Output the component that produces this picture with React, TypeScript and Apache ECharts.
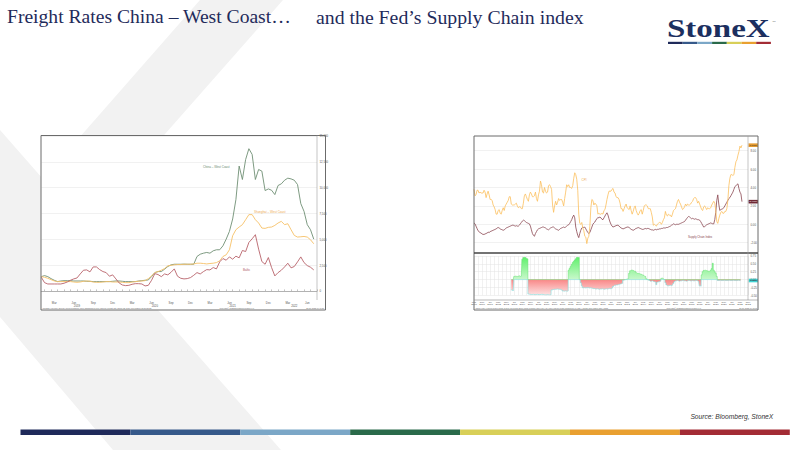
import { useEffect, useRef } from "react";
import * as echarts from "echarts";

// ---------- left chart: freight rates, twice a month from 16 Jan 2019 ----------
const chinaWestCoast = [
  1390, 1490, 1390, 1200, 1040, 910, 970, 1000, 1000, 1000,
  970, 970, 970, 970, 940, 940, 910, 910, 910, 910,
  910, 910, 940, 970, 970, 940, 910, 910, 910, 910,
  970, 1000, 1040, 1070, 1390, 1780, 1880, 1880, 2110, 2370,
  2530, 2590, 2590, 2590, 2600, 2590, 2590, 2590, 3340, 3560,
  3660, 3730, 3660, 3890, 3990, 3990, 4370, 5020, 5770, 6970,
  8850, 12090, 10790, 12730, 13770, 13220, 10790, 11760, 11600, 9720,
  9880, 9750, 9330, 10210, 10370, 10720, 10920, 10850, 10720, 10300,
  8460, 7710, 6420, 5930, 5020,
];
const shanghaiWestCoast = [
  1390, 1330, 1230, 1100, 970, 910, 910, 910, 910, 910,
  870, 840, 870, 940, 970, 940, 870, 840, 840, 870,
  910, 910, 870, 870, 870, 840, 810, 810, 870, 910,
  940, 970, 1000, 1200, 1460, 1780, 1880, 2010, 2170, 2430,
  2490, 2530, 2560, 2560, 2590, 2590, 2590, 2620, 2690, 2690,
  2660, 2620, 2660, 2690, 2750, 2920, 3340, 3500, 3990, 5350,
  5930, 6190, 6420, 6900, 7390, 7390, 6900, 6580, 6090, 6060,
  6160, 6190, 6350, 6580, 6740, 6420, 6510, 5930, 5380, 5220,
  5250, 5280, 5220, 4960, 4570,
];
const baltic = [
  1330, 810, 680, 680, 680, 680, 680, 750, 870, 1040,
  1170, 1260, 1650, 2010, 2040, 1850, 2330, 2330, 2070, 1880,
  1780, 1430, 1560, 1170, 780, 580, 520, 550, 650, 710,
  710, 680, 490, 550, 1040, 1680, 1590, 1390, 1650, 1560,
  1810, 2140, 1430, 1230, 1170, 1200, 1300, 1520, 1780, 1650,
  1880, 2070, 2040, 2270, 2140, 2820, 3140, 2980, 3300, 3080,
  3370, 3210, 3920, 3820, 4700, 5050, 5450, 4050, 2850, 2590,
  3240, 2270, 1460, 1780, 2010, 2330, 2690, 2240, 2370, 2820,
  3300, 2750, 2460, 2300, 2040,
];
const FREIGHT_FIRST = "2019-01-16";
const FREIGHT_LAST = "2022-08-01";
const FREIGHT_MONTH_LABELS = [3, 6, 9, 12];
const FREIGHT_YEAR_AT = ["2019-07-01", "2020-07-01", "2021-07-01", "2022-04-16"];

// ---------- right chart: monthly from Mar 2000 ----------
const cpi = [
  3.8, 3.1, 3.2, 3.7, 3.7, 3.4, 3.5, 3.4, 3.4, 3.4,
  3.7, 3.5, 2.9, 3.3, 3.6, 3.2, 2.7, 2.7, 2.6, 2.1, 1.9, 1.6,
  1.1, 1.1, 1.5, 1.6, 1.2, 1.1, 1.5, 1.8, 1.5, 2.0, 2.2, 2.4,
  2.6, 3.0, 3.0, 2.2, 2.1, 2.1, 2.1, 2.2, 2.3, 2.0, 1.8, 1.9,
  1.9, 1.7, 1.7, 2.3, 3.1, 3.3, 3.0, 2.7, 2.5, 3.2, 3.5, 3.3,
  3.0, 3.0, 3.1, 3.5, 2.8, 2.5, 3.2, 3.6, 4.7, 4.3, 3.5, 3.4,
  4.0, 3.6, 3.4, 3.5, 4.2, 4.3, 4.1, 3.8, 2.1, 1.3, 2.0, 2.5,
  2.1, 2.4, 2.8, 2.6, 2.7, 2.7, 2.4, 2.0, 2.8, 3.5, 4.3, 4.1,
  4.3, 4.0, 4.0, 3.9, 4.2, 5.0, 5.6, 5.4, 4.9, 3.7, 1.1, 0.1,
  0.0, 0.2, -0.4, -0.7, -1.3, -1.4, -2.1, -1.5, -1.3, -0.2, 1.8, 2.7,
  2.6, 2.1, 2.3, 2.2, 2.0, 1.1, 1.2, 1.1, 1.1, 1.2, 1.1, 1.5,
  1.6, 2.1, 2.7, 3.2, 3.6, 3.6, 3.6, 3.8, 3.9, 3.5, 3.4, 3.0,
  2.9, 2.9, 2.7, 2.3, 1.7, 1.7, 1.4, 1.7, 2.0, 2.2, 1.8, 1.7,
  1.6, 2.0, 1.5, 1.1, 1.4, 1.8, 2.0, 1.5, 1.2, 1.0, 1.2, 1.5,
  1.6, 1.1, 1.5, 2.0, 2.1, 2.1, 2.0, 1.7, 1.7, 1.7, 1.3, 0.8,
  -0.1, 0.0, -0.1, -0.2, 0.0, 0.1, 0.2, 0.2, 0.0, 0.2, 0.5, 0.7,
  1.4, 1.0, 0.9, 1.1, 1.0, 1.0, 0.8, 1.1, 1.5, 1.6, 1.7, 2.1,
  2.5, 2.7, 2.4, 2.2, 1.9, 1.6, 1.7, 1.9, 2.2, 2.0, 2.2, 2.1,
  2.1, 2.2, 2.4, 2.5, 2.8, 2.9, 2.9, 2.7, 2.3, 2.5, 2.2, 1.9,
  1.6, 1.5, 1.9, 2.0, 1.8, 1.6, 1.8, 1.7, 1.7, 1.8, 2.1, 2.3,
  2.5, 2.3, 1.5, 0.3, 0.1, 0.6, 1.0, 1.3, 1.4, 1.2, 1.2, 1.4,
  1.4, 1.7, 2.6, 4.2, 5.0, 5.4, 5.4, 5.3, 5.4, 6.2, 6.8, 7.0,
  7.5, 7.9, 8.5, 8.3, 8.6,
];
const supplyChainIndex = [
  0.15, 0.05, -0.2, -0.45, -0.7, -0.8, -0.9, -0.95, -1.05, -1.1,
  -1.1, -1.05, -1.0, -0.95, -0.85, -0.9, -0.8, -0.75, -0.7, -0.65, -0.6, -0.55,
  -0.5, -0.4, -0.35, -0.4, -0.5, -0.55, -0.6, -0.65, -0.6, -0.5, -0.4, -0.35,
  -0.3, -0.25, -0.2, -0.15, -0.1, -0.1, -0.15, -0.2, -0.15, -0.2, -0.2, -0.1,
  0.05, 0.2, 0.35, 0.45, 0.4, 0.3, 0.2, 0.15, 0.1, 0.05, -0.2, -0.6,
  -1.0, -1.2, -1.3, -1.0, -0.8, -0.6, -0.5, -0.45, -0.4, -0.35, -0.3, -0.3,
  -0.35, -0.4, -0.5, -0.55, -0.6, -0.5, -0.4, -0.35, -0.3, -0.3, -0.4, -0.5,
  -0.55, -0.6, -0.65, -0.55, -0.45, -0.4, -0.35, -0.3, -0.35, -0.3, -0.2, -0.1,
  -0.05, 0.1, 0.3, 0.5, 0.8, 1.0, 0.7, -0.3, -0.8, -1.2, -1.45, -1.0,
  -0.65, -0.4, -0.3, -0.35, -0.3, -0.5, -0.7, -0.9, -1.0, -0.9, -0.6, -0.3,
  0.0, 0.15, 0.25, 0.45, 0.6, 0.75, 0.7, 0.8, 0.7, 0.55, 0.5, 0.7,
  0.9, 1.1, 1.25, 1.0, 0.6, 0.25, 0.0, -0.2, -0.3, -0.25, -0.2, -0.15,
  -0.1, -0.1, -0.2, -0.3, -0.4, -0.45, -0.5, -0.45, -0.4, -0.35, -0.3, -0.3,
  -0.35, -0.45, -0.55, -0.6, -0.65, -0.6, -0.5, -0.45, -0.4, -0.35, -0.4, -0.45,
  -0.5, -0.55, -0.55, -0.5, -0.45, -0.5, -0.45, -0.45, -0.5, -0.55, -0.6, -0.6,
  -0.65, -0.6, -0.55, -0.6, -0.55, -0.55, -0.5, -0.5, -0.45, -0.45, -0.4, -0.4,
  -0.4, -0.35, -0.35, -0.3, -0.25, -0.2, -0.1, -0.05, 0.05, 0.0, -0.05, 0.0,
  0.0, 0.0, 0.05, 0.1, 0.15, 0.2, 0.25, 0.3, 0.45, 0.6, 0.75, 0.85,
  0.8, 0.7, 0.6, 0.65, 0.6, 0.55, 0.6, 0.55, 0.5, 0.5, 0.45, 0.3,
  0.1, -0.1, -0.3, -0.25, -0.15, -0.05, 0.0, 0.05, 0.1, 0.15, 0.1, 0.05,
  0.05, 0.5, 1.3, 2.6, 3.2, 2.2, 1.5, 1.6, 1.65, 1.7, 1.8, 2.0,
  2.2, 2.4, 2.6, 2.8, 2.9, 3.1, 3.3, 3.5, 3.8, 4.1, 4.2, 4.3,
  4.4, 3.9, 3.5, 3.3, 2.46,
];
// lower panel, monthly from Apr 2003
const spread = [
  -0.31, -0.34, -0.36,
  0.1, 0.11, 0.1, 0.1, 0.11, 0.12, 0.1, 0.11,
  0.65, 0.7, 0.72, 0.7, 0.68, 0.66,
  -0.46, -0.47, -0.47, -0.48, -0.47, -0.47, -0.48, -0.48, -0.47, -0.47, -0.48, -0.48,
  -0.47, -0.47, -0.47, -0.48, -0.49, -0.49, -0.48, -0.48, -0.49, -0.49, -0.48,
  -0.33, -0.32, -0.31, -0.31, -0.31, -0.3, -0.3, -0.31, -0.31, -0.32, -0.33,
  -0.36, -0.37, -0.36, -0.36, -0.37, -0.36,
  0.3, 0.36, 0.42, 0.48, 0.54, 0.58, 0.62, 0.66, 0.7, 0.72, 0.7,
  0, -0.1, -0.2,
  -0.26, -0.25, -0.27, -0.26, -0.26, -0.25, -0.26, -0.27, -0.26, -0.27,
  -0.28, -0.29, -0.28, -0.3, -0.29, -0.3, -0.31, -0.3, -0.3, -0.29,
  -0.3, -0.31, -0.3, -0.29, -0.3, -0.29, -0.28, -0.29, -0.28, -0.27,
  -0.22, -0.2, -0.18, -0.17, -0.17, -0.16, -0.15, -0.14, -0.13, -0.12,
  -0.02, -0.01, 0, 0.01, 0.02, 0.03,
  0.2, 0.28, 0.3, 0.3, 0.29, 0.28, 0.26, 0.22, 0.2,
  0.2, 0.19, 0.18, 0.17, 0.16, 0.14, 0.12, 0.1,
  0.03, 0, 0,
  -0.03, -0.05, -0.05, -0.04, -0.05,
  -0.07, -0.08, -0.16, -0.08, -0.07, -0.06, -0.05,
  0.04, 0.05, 0.03, 0,
  -0.1, -0.17, -0.19, -0.2, -0.19, -0.18, -0.19, -0.18, -0.12,
  -0.06, -0.04, -0.04, -0.03, -0.04, -0.05, -0.04, -0.04, -0.03, -0.03, -0.04, -0.04, -0.05,
  -0.04, -0.03, -0.03, -0.04, -0.04, -0.03, -0.04, -0.04, -0.03, -0.03, -0.04, -0.05,
  -0.2, -0.21,
  0.15, 0.25, 0.29, 0.3, 0.29, 0.28, 0.27, 0.26, 0.27, 0.3, 0.35, 0.52, 0.3, 0.25, 0.2, 0.1,
  -0.03, -0.03, -0.02, -0.03, -0.03, -0.03, -0.02, -0.03, -0.03, -0.03, -0.03, -0.02,
  -0.03, -0.03, -0.03, -0.02, -0.03, -0.03, -0.03, -0.03, -0.02, -0.03, -0.03, -0.03,
];
const SPREAD_START = "Apr 2003";
const MONTHS = ["Jan", "Feb", "Mar", "Apr", "May", "Jun", "Jul", "Aug", "Sep", "Oct", "Nov", "Dec"];
const STRIPES = ["#1f2a5a", "#36598a", "#7ba7c7", "#2a6a4a", "#d8cf58", "#e9a030", "#a32c35"];

const pad = (n: number) => String(n).padStart(2, "0");

const freightDates: string[] = [];
for (let y = 2019; y <= 2022; y++)
  for (let m = 1; m <= 12; m++)
    for (const d of [1, 16]) {
      const s = `${y}-${pad(m)}-${pad(d)}`;
      if (s >= FREIGHT_FIRST && s <= FREIGHT_LAST) freightDates.push(s);
    }

const months: string[] = [];
for (let y = 2000; y <= 2022; y++)
  for (let m = 0; m < 12; m++) {
    if (y === 2000 && m < 2) continue;
    if (y === 2022 && m > 10) continue;
    months.push(`${MONTHS[m]} ${y}`);
  }

const SANS = "Liberation Sans";

function txt(x: number, y: number, text: string, size: number, fill: string, align = "left", extra: any = {}) {
  return {
    type: "text",
    x,
    y,
    z: 40,
    silent: true,
    style: {
      text,
      fill,
      fontSize: size,
      fontFamily: SANS,
      align,
      textAlign: align,
      verticalAlign: "middle",
      textVerticalAlign: "middle",
      ...extra,
    },
  };
}

export default function App() {
  const ref = useRef<HTMLDivElement | null>(null);

  useEffect(() => {
    if (!ref.current) return;
    const chart = echarts.init(ref.current, null, { renderer: "svg" });

    const spreadStart = months.indexOf(SPREAD_START);
    const spreadUp = spread.map((v, i) => [spreadStart + i, Math.max(v, 0)]);
    const spreadDown = spread.map((v, i) => [spreadStart + i, Math.min(v, 0)]);

    const axisText = { color: "#555", fontFamily: SANS };

    const graphic: any[] = [
      // watermark
      {
        type: "polygon",
        z: -20,
        silent: true,
        shape: { points: [[200, 0], [283, 0], [84, 226], [281, 450], [113, 450], [0, 317], [0, 130], [43, 179]] },
        style: { fill: "#f2f2f2" },
      },
      // chart backgrounds
      { type: "rect", z: -10, silent: true, shape: { x: 41, y: 135.5, width: 284.5, height: 174.5 }, style: { fill: "#fff" } },
      { type: "rect", z: -10, silent: true, shape: { x: 474, y: 136, width: 284, height: 174 }, style: { fill: "#fff" } },
      // frames
      { type: "rect", z: 40, silent: true, shape: { x: 41, y: 135.5, width: 284.5, height: 174.5 }, style: { fill: "none", stroke: "#6b6b6b", lineWidth: 1 } },
      { type: "line", z: 40, silent: true, shape: { x1: 317, y1: 135.5, x2: 317, y2: 300 }, style: { stroke: "#a0a0a0", lineWidth: 0.6 } },
      { type: "rect", z: 40, silent: true, shape: { x: 474, y: 136, width: 284, height: 174 }, style: { fill: "none", stroke: "#6b6b6b", lineWidth: 1 } },
      { type: "line", z: 40, silent: true, shape: { x1: 474, y1: 253, x2: 758, y2: 253 }, style: { stroke: "#444", lineWidth: 1.3 } },
      { type: "line", z: 40, silent: true, shape: { x1: 748, y1: 136, x2: 748, y2: 300 }, style: { stroke: "#a0a0a0", lineWidth: 0.6 } },
      { type: "line", z: 40, silent: true, shape: { x1: 474, y1: 300, x2: 758, y2: 300 }, style: { stroke: "#888", lineWidth: 0.6 } },
      // chart annotations
      txt(203, 166.7, "China – West Coast", 3, "#6b8a70"),
      txt(254, 211.7, "Shanghai – West Coast", 3, "#eeaa50"),
      txt(243, 270, "Baltic", 3, "#b05a63"),
      txt(581.5, 180, "CPI", 3, "#eeaa50"),
      txt(688, 236.7, "Supply Chain Index", 2.8, "#8a4651"),
      // footnotes
      txt(42.5, 308.3, "WCIDSHAN Index (Drewry World Container Index Shanghai to Los Angeles) Freight rate China US  Daily 16JAN2019-21JUL2022", 1.9, "#666"),
      txt(237, 308.3, "Copyright© 2022 Bloomberg Finance L.P.", 1.9, "#666", "center"),
      txt(324, 308.3, "21-Jul-2022 09:41:26", 1.9, "#666", "right"),
      txt(475.5, 308.3, "GSCPI Index (Federal Reserve Bank of New York Global Supply Chain Pressure Index) CPI YOY Index (US CPI Urban Consumers YoY NSA)  Monthly 31MAR2000-31MAY2022", 1.7, "#666"),
      txt(684, 308.3, "Copyright© 2022 Bloomberg Finance L.P.", 1.9, "#666", "center"),
      txt(757, 308.3, "21-Jul-2022 09:43:05", 1.9, "#666", "right"),
      // title
      {
        type: "text", x: 7, y: 16.6, z: 40, silent: true,
        style: { text: "Freight Rates China – West Coast…", fill: "#1f2b5b", fontSize: 19.6, fontFamily: "Liberation Serif", verticalAlign: "middle", textVerticalAlign: "middle" },
      },
      {
        type: "text", x: 316, y: 16.6, z: 40, silent: true,
        style: { text: "and the Fed’s Supply Chain index", fill: "#1f2b5b", fontSize: 19.8, fontFamily: "Liberation Serif", verticalAlign: "middle", textVerticalAlign: "middle" },
      },
      // logo
      {
        type: "text", x: 667, y: 28.3, scaleX: 1.31, z: 40, silent: true,
        style: { text: "StoneX", fill: "#1c2f5f", fontSize: 25.2, fontWeight: "bold", fontFamily: "Liberation Serif", verticalAlign: "middle", textVerticalAlign: "middle" },
      },
      txt(772.5, 21.5, "TM", 2.2, "#555"),
      ...STRIPES.map((c, i) => ({
        type: "rect", z: 40, silent: true,
        shape: { x: 668 + i * 14.7, y: 41.8, width: 14.7, height: 2.2 },
        style: { fill: c },
      })),
      ...STRIPES.map((c, i) => ({
        type: "rect", z: 40, silent: true,
        shape: { x: 20.5 + i * 109.9, y: 429.5, width: 109.9, height: 5.5 },
        style: { fill: c },
      })),
      txt(773.3, 416.7, "Source: Bloomberg, StoneX", 6.7, "#333", "right", { fontStyle: "italic" }),
    ];

    const option: any = {
      animation: false,
      backgroundColor: "#ffffff",
      grid: [
        { left: 41.3, top: 136, width: 275.7, height: 155 },
        { left: 474, top: 150.7, width: 274, height: 92 },
        { left: 474, top: 256, width: 274, height: 39.3 },
      ],
      xAxis: [
        {
          gridIndex: 0,
          type: "category",
          data: freightDates,
          boundaryGap: false,
          position: "bottom",
          offset: 9,
          axisLine: { lineStyle: { color: "#888", width: 0.6 } },
          axisTick: {
            inside: true,
            length: 1.6,
            interval: (_i: number, v: string) => v.endsWith("-01"),
            lineStyle: { color: "#888", width: 0.5 },
          },
          axisLabel: {
            ...axisText,
            interval: (_i: number, v: string) => v.endsWith("-16") && FREIGHT_MONTH_LABELS.includes(+v.slice(5, 7)),
            formatter: (v: string) => MONTHS[+v.slice(5, 7) - 1],
            fontSize: 2.8,
            margin: 1.2,
          },
          splitLine: { show: false },
        },
        {
          gridIndex: 0,
          type: "category",
          data: freightDates,
          boundaryGap: false,
          position: "bottom",
          offset: 12.2,
          axisLine: { show: false },
          axisTick: { show: false },
          axisLabel: {
            ...axisText,
            interval: (_i: number, v: string) => FREIGHT_YEAR_AT.includes(v),
            formatter: (v: string) => v.slice(0, 4),
            fontSize: 2.8,
            margin: 0.6,
          },
          splitLine: { show: false },
        },
        { gridIndex: 1, type: "category", data: months, boundaryGap: false, show: false },
        {
          gridIndex: 2,
          type: "category",
          data: months,
          boundaryGap: false,
          position: "bottom",
          offset: 4.7,
          axisLine: { show: false },
          axisTick: { show: false },
          axisLabel: {
            ...axisText,
            interval: (i: number) => i % 8 === 0,
            formatter: (v: string) => v.replace(" ", "\n"),
            fontSize: 2.5,
            lineHeight: 2.7,
            margin: 0.8,
          },
          splitLine: {
            show: true,
            interval: (i: number) => i % 4 === 0,
            lineStyle: { color: "#e2e2e2", width: 0.5 },
          },
        },
      ],
      yAxis: [
        {
          gridIndex: 0, type: "value", position: "right", min: 0, max: 15000, interval: 2500,
          axisLine: { show: false }, axisTick: { show: false },
          axisLabel: { ...axisText, fontSize: 2.8, margin: 2.5 },
          splitLine: { lineStyle: { color: "#e8e8e8", width: 0.6 } },
        },
        {
          gridIndex: 1, type: "value", position: "right", min: -2, max: 8, interval: 2,
          axisLine: { show: false }, axisTick: { show: false },
          axisLabel: { ...axisText, fontSize: 2.8, margin: 2.5, formatter: (v: number) => v.toFixed(2) },
          splitLine: { lineStyle: { color: "#e8e8e8", width: 0.6 } },
        },
        {
          gridIndex: 2, type: "value", position: "right", min: -0.5, max: 0.75, interval: 0.25,
          axisLine: { show: false }, axisTick: { show: false },
          axisLabel: { ...axisText, fontSize: 2.8, margin: 2.5, formatter: (v: number) => v.toFixed(2) },
          splitLine: { lineStyle: { color: "#e2e2e2", width: 0.5 } },
        },
      ],
      series: [
        {
          name: "China – West Coast", type: "line", xAxisIndex: 0, yAxisIndex: 0,
          data: chinaWestCoast, showSymbol: false, lineStyle: { color: "#6f8f74", width: 0.9 },
        },
        {
          name: "Shanghai – West Coast", type: "line", xAxisIndex: 0, yAxisIndex: 0,
          data: shanghaiWestCoast, showSymbol: false, lineStyle: { color: "#f6c167", width: 0.9 },
        },
        {
          name: "Baltic", type: "line", xAxisIndex: 0, yAxisIndex: 0,
          data: baltic, showSymbol: false, lineStyle: { color: "#b8626a", width: 0.9 },
        },
        {
          name: "Supply Chain Index", type: "line", xAxisIndex: 2, yAxisIndex: 1, clip: false,
          data: supplyChainIndex, showSymbol: false, lineStyle: { color: "#8a4651", width: 0.8 },
        },
        {
          name: "CPI", type: "line", xAxisIndex: 2, yAxisIndex: 1, clip: false,
          data: cpi, showSymbol: false, lineStyle: { color: "#fbbf5d", width: 0.8 },
        },
        {
          name: "Spread +", type: "line", xAxisIndex: 3, yAxisIndex: 2, step: "middle",
          data: spreadUp, showSymbol: false,
          lineStyle: { color: "#5fe06c", width: 0.5 },
          areaStyle: {
            opacity: 1,
            color: new echarts.graphic.LinearGradient(0, 0, 0, 1, [
              { offset: 0, color: "#5ff06b" },
              { offset: 1, color: "#c9f8cc" },
            ]),
          },
        },
        {
          name: "Spread -", type: "line", xAxisIndex: 3, yAxisIndex: 2, step: "middle",
          data: spreadDown, showSymbol: false,
          lineStyle: { color: "#7fe0e0", width: 0.6 },
          areaStyle: {
            opacity: 1,
            color: new echarts.graphic.LinearGradient(0, 0, 0, 1, [
              { offset: 0, color: "#f98787" },
              { offset: 1, color: "#fde2e2" },
            ]),
          },
        },
      ],
      graphic,
    };

    chart.setOption(option);

    // last-value tags on the right axis, placed through the axes
    const tag = (axis: number, value: number, fill: string, color: string) => {
      const y = chart.convertToPixel({ yAxisIndex: axis } as any, value) as unknown as number;
      return {
        type: "group", x: 748.5, y, z: 45, silent: true,
        children: [
          { type: "rect", shape: { x: 0, y: -1.8, width: 9.5, height: 3.6 }, style: { fill } },
          {
            type: "text", x: 4.75, y: 0,
            style: { text: value.toFixed(4), fill: color, fontSize: 2.4, fontFamily: SANS, align: "center", textAlign: "center", verticalAlign: "middle", textVerticalAlign: "middle" },
          },
        ],
      };
    };
    option.graphic = [
      ...graphic,
      tag(1, cpi[cpi.length - 1], "#e49a2e", "#222"),
      tag(1, supplyChainIndex[supplyChainIndex.length - 1], "#6e2834", "#fff"),
      tag(2, spread[spread.length - 1], "#3fd3d3", "#113"),
    ];
    chart.setOption(option, true);

    return () => {
      chart.dispose();
    };
  }, []);

  return (
    <div
      ref={ref}
      style={{ position: "absolute", left: 0, top: 0, width: "800px", height: "450px" }}
    />
  );
}
